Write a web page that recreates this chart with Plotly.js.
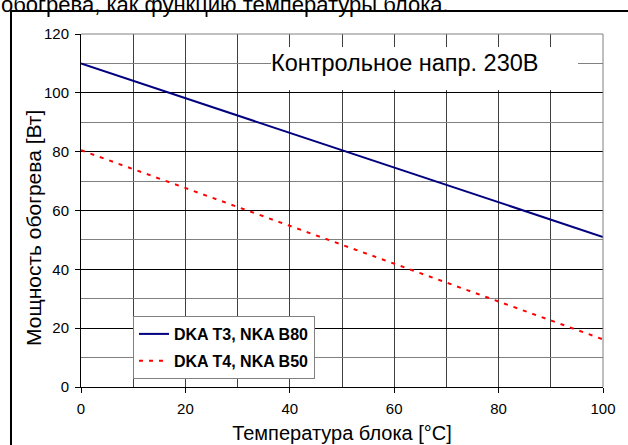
<!DOCTYPE html>
<html>
<head>
<meta charset="utf-8">
<script src="https://cdn.plot.ly/plotly-3.0.1.min.js"></script>
<style>html,body{margin:0;padding:0;background:#fff;}#chart{width:628px;height:445px;}</style>
</head>
<body>
<div id="chart"></div>
<script>
// Data
var temperature = [0, 20, 40, 60, 80, 100];
var powerT3 = [110, 98.2, 86.5, 74.7, 62.9, 51];
var powerT4 = [80.5, 67.6, 54.7, 41.8, 29, 16.2];
var seriesNames = ["DKA T3, NKA B80", "DKA T4, NKA B50"];
var xTitle = "Температура блока [°C]";
var yTitle = "Мощность обогрева [Вт]";
var noteText = "Контрольное напр. 230В";
var captionText = "обогрева, как функцию температуры блока.";

var FONT = "Liberation Sans, Arial, sans-serif";

var traces = [
  {x: temperature, y: powerT3, name: seriesNames[0], type: "scatter", mode: "lines",
   line: {color: "#000080", width: 2}, legendgroup: "a"},
  {x: temperature, y: powerT4, name: seriesNames[1], type: "scatter", mode: "lines",
   line: {color: "#FF0000", width: 2, dash: "4px,6px"}, legendgroup: "b"}
];

// paper-coordinate helpers for the fixed 628x445 frame (plot area 81..603 x 34..387)
function px(x) { return (x - 81) / 522; }
function py(y) { return (387 - y) / 353; }

var layout = {
  width: 628, height: 445,
  margin: {l: 81, r: 25, t: 34, b: 58, autoexpand: false},
  paper_bgcolor: "#ffffff", plot_bgcolor: "#ffffff",
  font: {family: FONT, size: 15, color: "#000"},
  showlegend: true,
  legend: {x: px(133), y: py(316), xanchor: "left", yanchor: "top",
    bgcolor: "#ffffff", bordercolor: "#808080", borderwidth: 1,
    font: {family: FONT, size: 16, weight: "bold", color: "#000"},
    traceorder: "grouped", tracegroupgap: 3},
  xaxis: {range: [0, 100], dtick: 20, tick0: 0, showgrid: true, gridcolor: "#404040", gridwidth: 1,
    minor: {dtick: 10, showgrid: true, gridcolor: "#404040", gridwidth: 1},
    showline: true, linecolor: "#000", linewidth: 1, ticks: "outside", ticklen: 5, tickcolor: "#000",
    zeroline: false, fixedrange: true, ticklabelstandoff: 3,
    tickfont: {family: FONT, size: 15},
    title: {text: xTitle, font: {family: FONT, size: 20}, standoff: 9}},
  yaxis: {range: [0, 120], dtick: 20, tick0: 0, showgrid: true, gridcolor: "#000000", gridwidth: 1,
    minor: {dtick: 10, showgrid: true, gridcolor: "#808080", gridwidth: 1},
    showline: true, linecolor: "#000", linewidth: 1, ticks: "outside", ticklen: 5, tickcolor: "#000",
    zeroline: false, fixedrange: true, ticklabelstandoff: 3,
    tickfont: {family: FONT, size: 15}},
  shapes: [
    {type: "rect", xref: "paper", yref: "paper", x0: px(271), x1: px(578), y0: py(90), y1: py(47),
     fillcolor: "#ffffff", line: {width: 0}, layer: "above"},
    {type: "line", xref: "paper", yref: "paper", x0: 0, x1: 1, y0: 1, y1: 1, line: {color: "#808080", width: 1}, layer: "above"},
    {type: "line", xref: "paper", yref: "paper", x0: 1, x1: 1, y0: 0, y1: 1, line: {color: "#808080", width: 1}, layer: "above"},
    {type: "rect", xref: "paper", yref: "paper", x0: px(11), x1: 1.08, y0: -0.25, y1: py(11), line: {color: "#000", width: 2}, layer: "above"}
  ],
  annotations: [
    {xref: "paper", yref: "paper", x: px(33.5), y: py(228.5), xanchor: "center", yanchor: "middle",
     text: yTitle, textangle: -90, showarrow: false, font: {family: FONT, size: 21, color: "#000"}},
    {xref: "paper", yref: "paper", x: px(270), y: py(63), xanchor: "left", yanchor: "middle",
     text: noteText, showarrow: false, borderpad: 0,
     font: {family: FONT, size: 23.5, color: "#000"}},
    {xref: "paper", yref: "paper", x: -0.158, y: 1.084, xanchor: "left", yanchor: "middle",
     text: captionText, showarrow: false, font: {family: FONT, size: 22, color: "#000"}}
  ]
};

Plotly.newPlot("chart", traces, layout, {displayModeBar: false, staticPlot: true});
</script>
</body>
</html>
